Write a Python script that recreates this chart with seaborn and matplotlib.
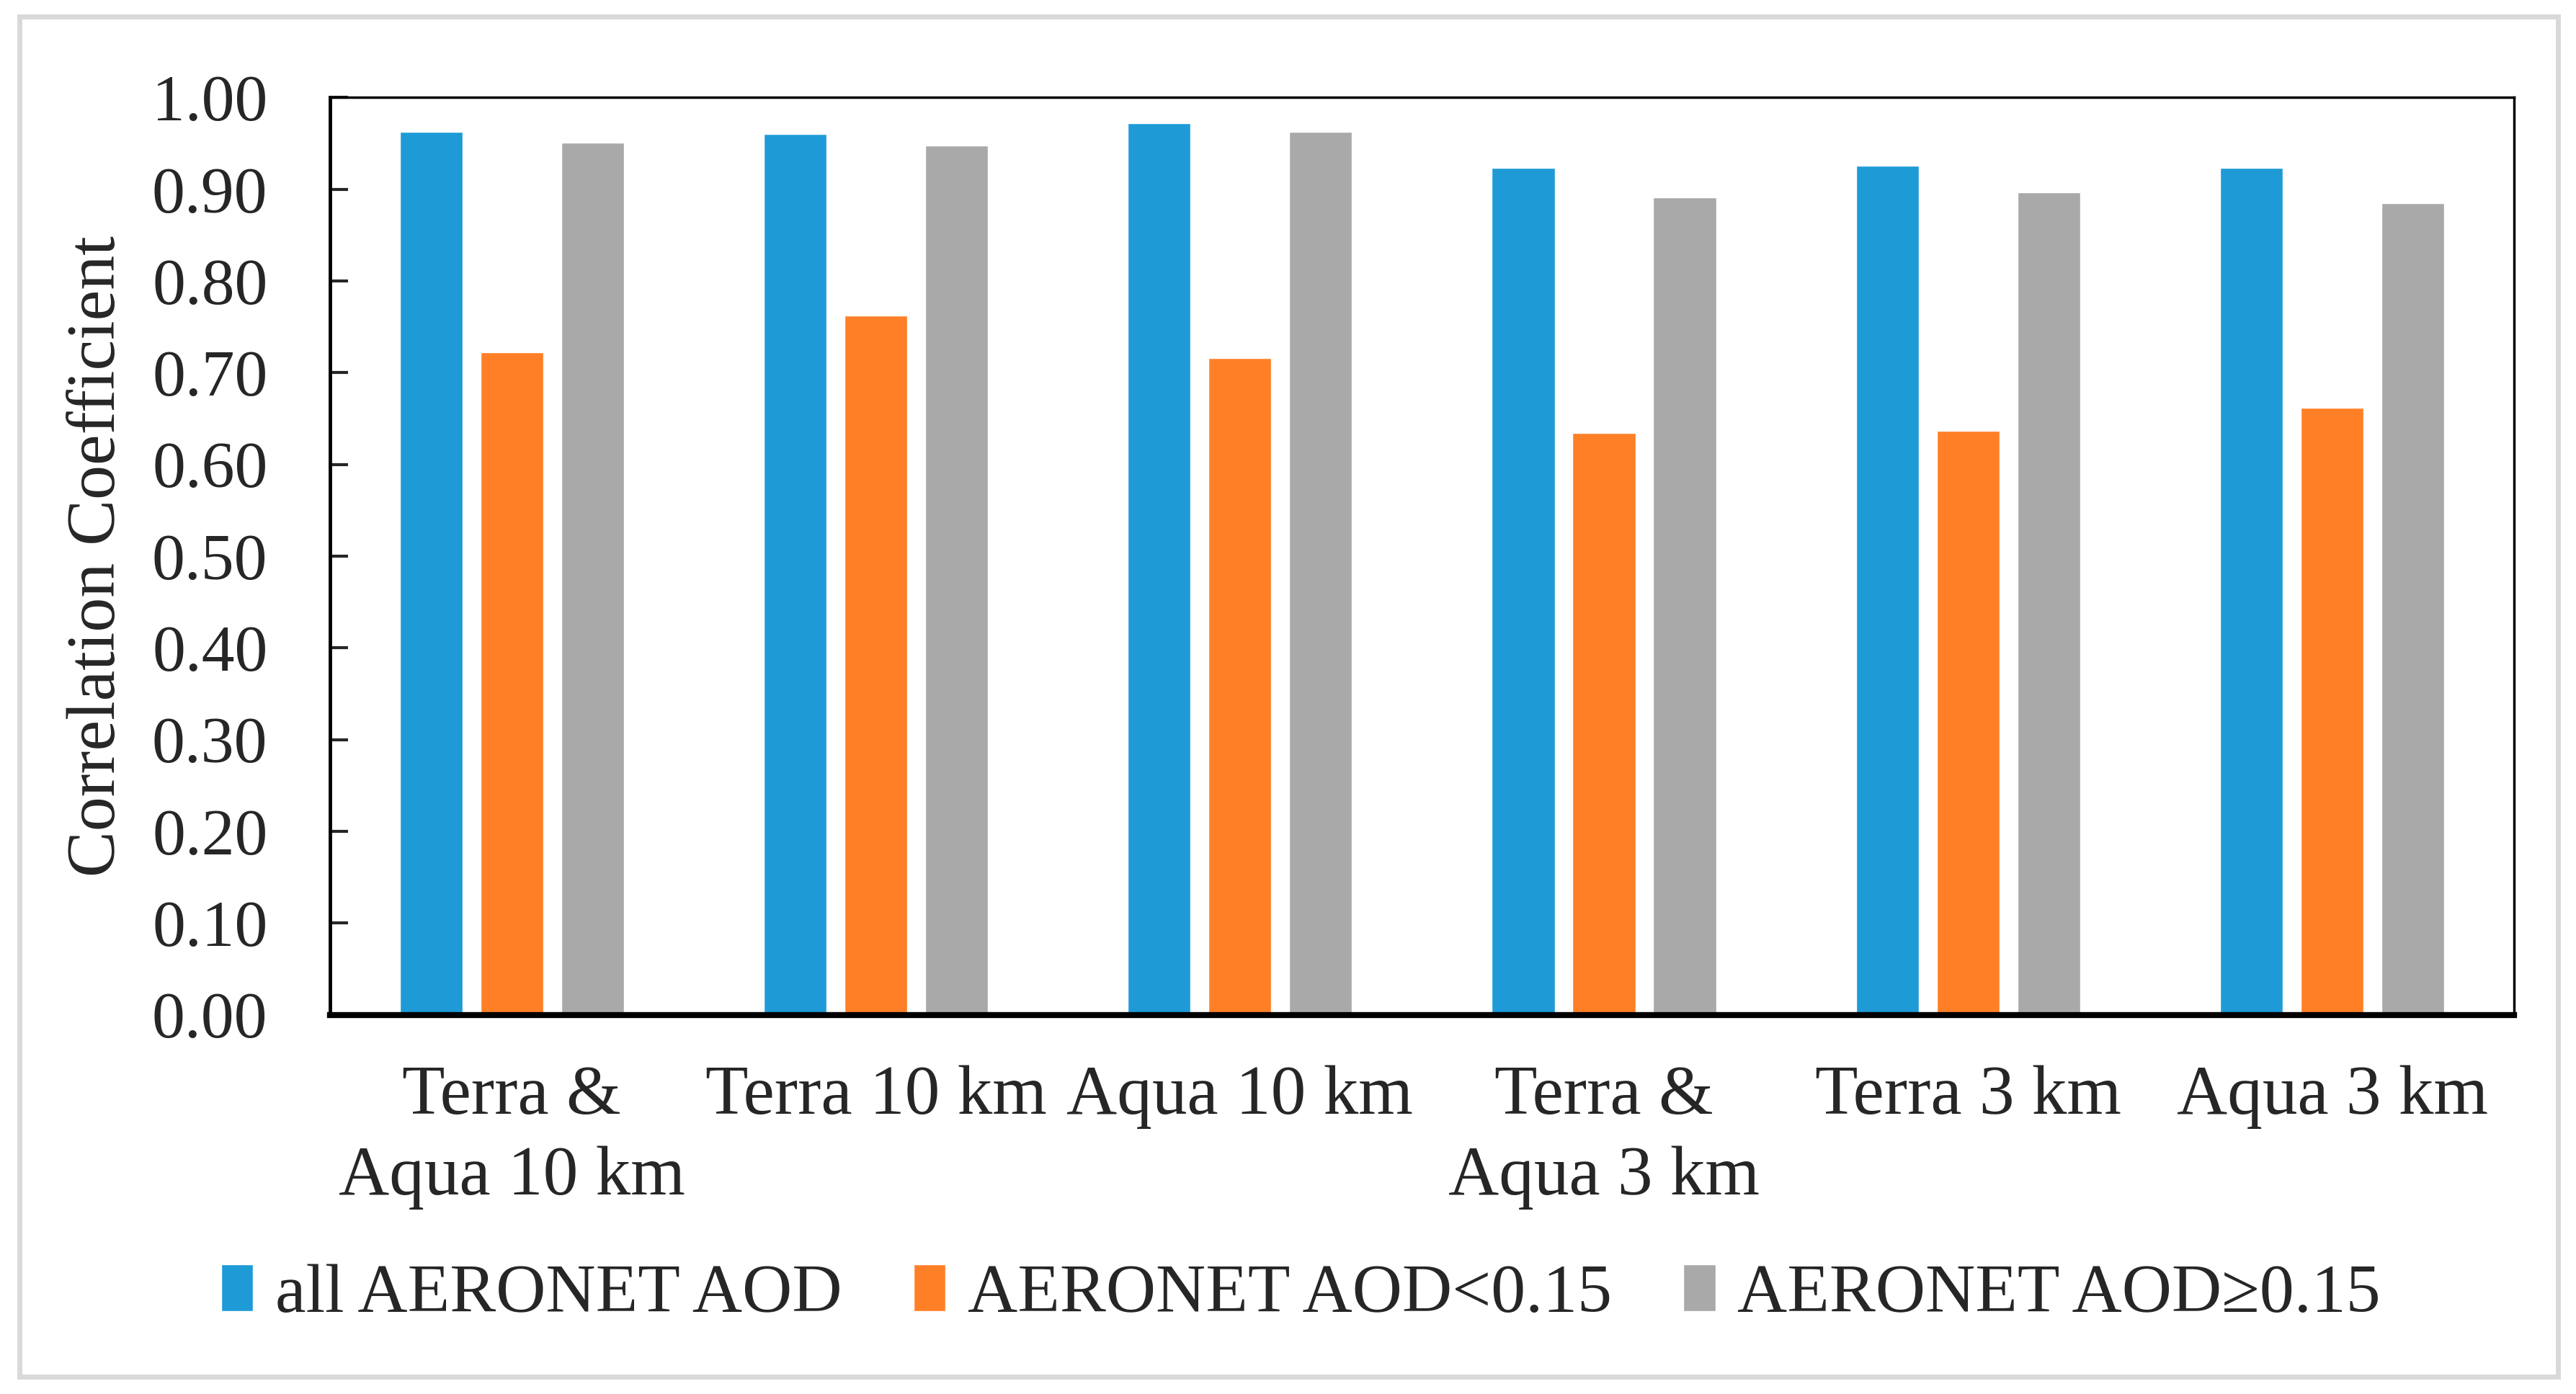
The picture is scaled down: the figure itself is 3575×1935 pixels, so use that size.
import pandas as pd
import matplotlib.pyplot as plt
import matplotlib.patches as patches
import seaborn as sns

# Correlation coefficients
groups = ['Terra &\nAqua 10 km', 'Terra 10 km', 'Aqua 10 km',
          'Terra &\nAqua 3 km', 'Terra 3 km', 'Aqua 3 km']
series = ['all AERONET AOD', 'AERONET AOD<0.15', 'AERONET AOD\u22650.15']
all_aod = [0.963, 0.960, 0.972, 0.923, 0.926, 0.923]
low_aod = [0.722, 0.762, 0.716, 0.634, 0.637, 0.662]
high_aod = [0.951, 0.948, 0.963, 0.891, 0.897, 0.885]
colors = ['#1E9BD7', '#FF7F27', '#A9A9A9']

# long-form table for seaborn
rows = []
for name, vals in zip(series, [all_aod, low_aod, high_aod]):
    for g, v in zip(groups, vals):
        rows.append({'group': g, 'series': name, 'value': v})
df = pd.DataFrame(rows)

sns.set_style('white')
plt.rcParams['font.family'] = ['Liberation Serif', 'DejaVu Serif']

fig = plt.figure(figsize=(35.75, 19.35), dpi=100)
ax = fig.add_axes([0.128, 0.272, 0.848, 0.658])

sns.barplot(data=df, x='group', y='value', hue='series', order=groups,
            hue_order=series, palette=colors, width=0.665, gap=0.22,
            saturation=1, ax=ax, legend=True)

ax.set_xlim(-0.5, len(groups) - 0.5)
ax.set_ylim(0, 1.0)
ax.set_yticks([i / 10 for i in range(11)])
ax.set_yticklabels([f'{i / 10:.2f}' for i in range(11)])
ax.tick_params(axis='y', direction='in', length=18, width=3, labelsize=66,
               pad=62, left=True)
ax.tick_params(axis='x', length=0, labelsize=70, pad=50)
for lab in ax.get_xticklabels():
    lab.set_linespacing(1.35)
ax.set_xlabel('')
ax.set_ylabel('Correlation Coefficient', fontsize=69)
ax.yaxis.set_label_coords(-0.092, 0.5)

for side in ['top', 'right']:
    ax.spines[side].set_linewidth(2.5)
    ax.spines[side].set_color('black')
ax.spines['left'].set_linewidth(3.5)
ax.spines['left'].set_color('black')
ax.spines['bottom'].set_linewidth(6)
ax.spines['bottom'].set_color('black')

# legend below the plot
handles, labels = ax.get_legend_handles_labels()
ax.get_legend().remove()
fig.legend(handles, labels, loc='center', bbox_to_anchor=(0.505, 0.071),
           ncol=3, frameon=False, fontsize=69, handlelength=0.46,
           handleheight=0.66, handletextpad=0.32, columnspacing=1.04)

# light grey frame around the figure
fig.patches.append(patches.Rectangle((27 / 3575, 1 - 1911 / 1935),
                                     (3550 - 27) / 3575, (1911 - 23) / 1935,
                                     transform=fig.transFigure, fill=False,
                                     edgecolor='#D9D9D9', linewidth=5))

fig.savefig('out.png', dpi=100, facecolor='white')
